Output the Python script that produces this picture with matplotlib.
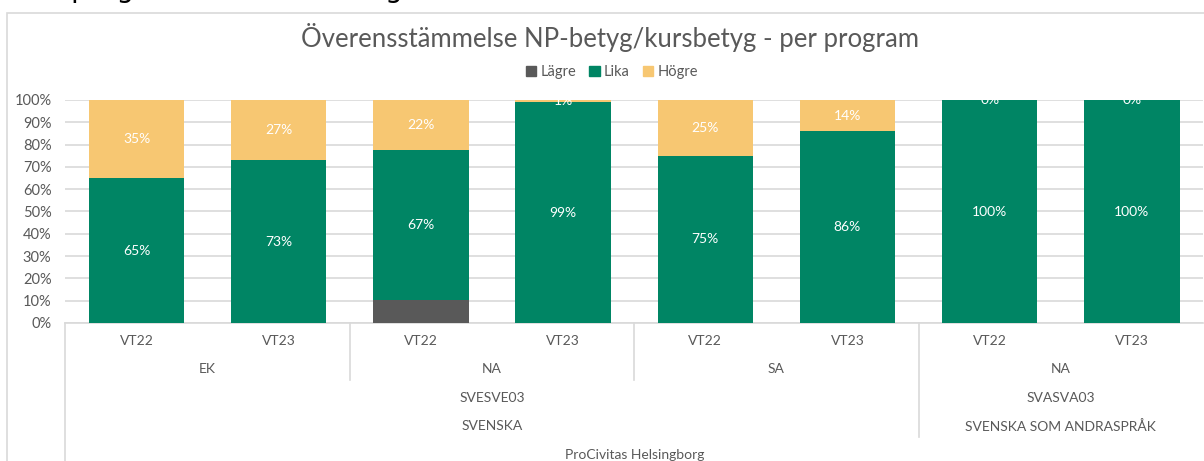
import matplotlib
matplotlib.use("Agg")
import matplotlib.pyplot as plt
from matplotlib.patches import Rectangle, Patch
from matplotlib.lines import Line2D
import matplotlib.transforms as mtransforms

plt.rcParams['font.family'] = ['Lato', 'DejaVu Sans']

# ---- data ----
terms = ["VT22", "VT23", "VT22", "VT23", "VT22", "VT23", "VT22", "VT23"]
programs = ["EK", "NA", "SA", "NA"]
codes = ["SVESVE03", "SVASVA03"]
subjects = ["SVENSKA", "SVENSKA SOM ANDRASPRÅK"]
school = "ProCivitas Helsingborg"
series_names = ["Lägre", "Lika", "Högre"]
lagre = [0, 0, 10.4, 0, 0, 0, 0, 0]
lika = [65, 73, 67.4, 99, 75, 86, 100, 100]
hogre = [35, 27, 22.2, 1, 25, 14, 0, 0]
colors = ["#595959", "#008564", "#F7C772"]

W, H = 1204, 461
fig = plt.figure(figsize=(W / 100, H / 100), dpi=100)

# outer chart border
fig.patches.append(Rectangle((7 / W, -0.1), 1.2, 1 - 13 / H + 0.1, transform=fig.transFigure,
                             fill=False, edgecolor="#d9d9d9", linewidth=1.2))
# heading above the chart, cut off by the top edge (only descenders show)
fig.text(18 / W, 1 + 3 / H, "Per program och samlat läge", fontsize=20, color="black",
         ha="left", va="baseline", family="DejaVu Sans")

ax = fig.add_axes([65.4 / W, (H - 323) / H, (1203 - 65.4) / W, 223 / H])
x = list(range(len(terms)))
bw = 0.67
ax.bar(x, lagre, bw, color=colors[0], label=series_names[0], zorder=3)
ax.bar(x, lika, bw, bottom=lagre, color=colors[1], label=series_names[1], zorder=3)
bottom3 = [a + b for a, b in zip(lagre, lika)]
ax.bar(x, hogre, bw, bottom=bottom3, color=colors[2], label=series_names[2], zorder=3)

for i in x:
    ax.text(i, lagre[i] + lika[i] / 2, f"{round(lika[i])}%", ha="center", va="center",
            color="white", fontsize=10, zorder=4)
    ax.text(i, bottom3[i] + hogre[i] / 2, f"{round(hogre[i])}%", ha="center", va="center",
            color="white", fontsize=10, zorder=4)

ax.set_xlim(-0.5, 7.5)
ax.set_ylim(0, 100)
ax.set_yticks(range(0, 101, 10))
ax.set_yticklabels([f"{v}%" for v in range(0, 101, 10)], color="#595959", fontsize=10.5)
ax.yaxis.grid(True, color="#d9d9d9", linewidth=1.2, zorder=0)
ax.tick_params(axis="y", length=0, pad=10)
ax.set_xticks([])
for s in ["top", "right", "left"]:
    ax.spines[s].set_visible(False)
ax.spines["bottom"].set_color("#d9d9d9")
ax.spines["bottom"].set_linewidth(1.2)

tr = mtransforms.blended_transform_factory(ax.transData, ax.transAxes)
tc = "#595959"
fs = 10
for i, t in enumerate(terms):
    ax.text(i, -0.081, t, transform=tr, ha="center", va="center", color=tc, fontsize=fs)
for j, p in enumerate(programs):
    ax.text(2 * j + 0.5, -0.206, p, transform=tr, ha="center", va="center", color=tc, fontsize=fs)
ax.text(2.5, -0.336, codes[0], transform=tr, ha="center", va="center", color=tc, fontsize=fs)
ax.text(6.5, -0.336, codes[1], transform=tr, ha="center", va="center", color=tc, fontsize=fs)
ax.text(2.5, -0.462, subjects[0], transform=tr, ha="center", va="center", color=tc, fontsize=fs)
ax.text(6.5, -0.462, subjects[1], transform=tr, ha="center", va="center", color=tc, fontsize=fs)
ax.text(3.5, -0.592, school, transform=tr, ha="center", va="center", color=tc, fontsize=fs)

for xs, ybot in [(-0.5, -0.8), (1.5, -0.256), (3.5, -0.256), (5.5, -0.511)]:
    ax.add_line(Line2D([xs, xs], [0, ybot], transform=tr, color="#d9d9d9",
                       linewidth=1.2, clip_on=False))

fig.text(610 / W, 1 - 38 / H, "Överensstämmelse NP-betyg/kursbetyg - per program",
         ha="center", va="center", fontsize=18.5, color="#595959")

handles = [Patch(color=c) for c in colors]
fig.legend(handles, series_names, loc="center", bbox_to_anchor=(612 / W, 1 - 72 / H),
           ncol=3, frameon=False, fontsize=10.5, handlelength=0.7, handleheight=0.7,
           handletextpad=0.3, columnspacing=0.9, labelcolor="#595959")

fig.savefig("out.png", dpi=100)
